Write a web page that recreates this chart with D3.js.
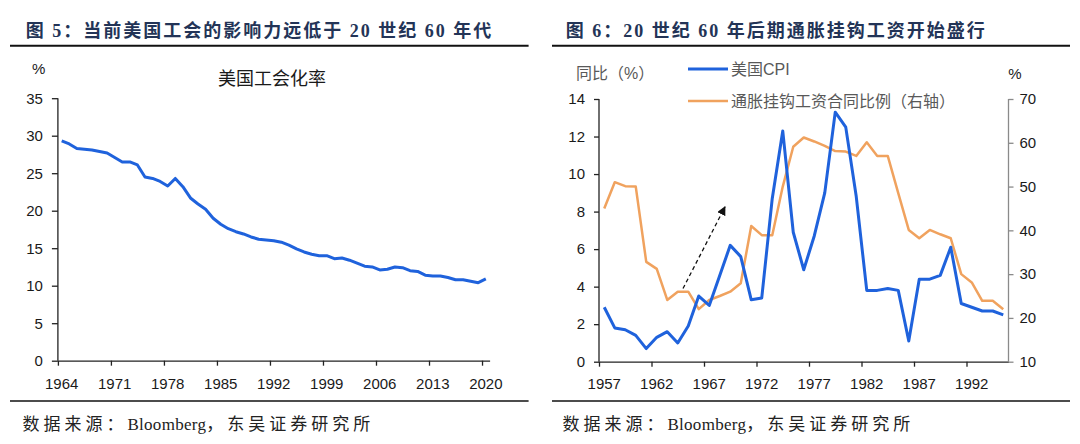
<!DOCTYPE html>
<html><head><meta charset="utf-8">
<script src="https://cdn.jsdelivr.net/npm/d3@7"></script>
<style>
html,body{margin:0;padding:0;background:#fff;}
svg{display:block;}
</style></head>
<body>
<svg id="chart" width="1080" height="444"></svg>
<script>
// ---------- DATA ----------
const unionYears = d3.range(1964, 2021);
const unionRate = [29.3,28.9,28.3,28.2,28.1,27.9,27.7,27.1,26.5,26.5,26.1,24.5,24.3,23.9,23.3,24.3,23.2,21.7,20.9,20.2,19.0,18.2,17.6,17.2,16.9,16.5,16.2,16.1,16.0,15.8,15.4,14.9,14.5,14.2,14.0,14.0,13.6,13.7,13.4,13.0,12.6,12.5,12.1,12.2,12.5,12.4,12.0,11.9,11.4,11.3,11.3,11.1,10.8,10.8,10.6,10.4,10.9];
const unionXTicks = [1964,1971,1978,1985,1992,1999,2006,2013,2020];
const unionYTicks = [0,5,10,15,20,25,30,35];

const cpiYears = d3.range(1957, 1996);
const usCPI = [2.9,1.8,1.7,1.4,0.7,1.3,1.6,1.0,1.9,3.5,3.0,4.6,6.2,5.6,3.3,3.4,8.7,12.3,6.9,4.9,6.7,9.0,13.3,12.5,8.8,3.8,3.8,3.9,3.8,1.1,4.4,4.4,4.6,6.1,3.1,2.9,2.7,2.7,2.5];
const colaShare = [45.0,51.0,50.1,50.0,32.8,31.2,24.1,26.0,26.0,22.0,24.1,25.0,26.0,27.9,41.0,38.9,38.9,50.0,59.1,61.2,60.3,59.3,58.1,58.0,57.0,60.1,57.0,57.0,48.5,40.1,38.2,40.1,39.1,38.2,30.0,28.1,23.9,23.9,22.0];
const cpiXTicks = [1957,1962,1967,1972,1977,1982,1987,1992];
const cpiYTicks = [0,2,4,6,8,10,12,14];
const colaYTicks = [10,20,30,40,50,60,70];

const titles = ["图 5：当前美国工会的影响力远低于 20 世纪 60 年代", "图 6：20 世纪 60 年后期通胀挂钩工资开始盛行"];
const sourceParts = ["数据来源：", "Bloomberg", "，东吴证券研究所"];
const legendNames = ["美国CPI", "通胀挂钩工资合同比例（右轴）"];

// ---------- STYLE ----------
const BLUE = "#1f62dc", ORANGE = "#f0a25e";
const AX = "Liberation Sans, Arial, sans-serif";
const SERIF = "'Liberation Serif','Noto Sans CJK SC',serif";
const CJK = "'Liberation Sans','Noto Sans CJK SC',sans-serif";

const svg = d3.select("#chart");
svg.append("rect").attr("width",1080).attr("height",444).attr("fill","#fff");

// headers / footers
[[10,528.6,25.8],[552,1070,565.8]].forEach((p,i)=>{
  svg.append("text").attr("x",p[2]).attr("y",31).attr("dominant-baseline","central")
    .attr("font-family",SERIF).attr("font-weight","bold").attr("font-size",18)
    .attr("letter-spacing",2).attr("fill","#233457").text(titles[i]);
  svg.append("line").attr("x1",p[0]).attr("x2",p[1]).attr("y1",45.8).attr("y2",45.8)
    .attr("stroke","#111").attr("stroke-width",2);
  svg.append("line").attr("x1",p[0]).attr("x2",p[1]).attr("y1",401).attr("y2",401)
    .attr("stroke","#111").attr("stroke-width",1.4);
  const t = svg.append("text").attr("x",p[2]-3.4).attr("y",424).attr("dominant-baseline","central")
    .attr("font-family",SERIF).attr("font-size",17).attr("fill","#222");
  sourceParts.forEach((s,k)=>{
    t.append("tspan").attr("letter-spacing",k===1?0.3:4).text(s);
  });
});

function styleAxis(g, color){
  g.selectAll("path.domain").attr("stroke",color).attr("stroke-width",1.3);
  g.selectAll(".tick line").attr("stroke",color).attr("stroke-width",1.3);
  g.selectAll("text").attr("font-family",AX).attr("font-size",15).attr("fill","#1a1a1a");
}

// ---------- LEFT CHART ----------
{
  const x0 = 57.9, x1 = 489.6, yTop = 98.2, yBot = 360.7;
  const xb = d3.scaleBand().domain(unionYears).range([x0,x1]).padding(0);
  const xl = d3.scaleLinear().domain([1964, 2021]).range([x0,x1]);
  const y = d3.scaleLinear().domain([0,35]).range([yBot,yTop]);

  const gx = svg.append("g").attr("transform",`translate(0,${yBot})`)
    .call(d3.axisBottom(xl).tickValues(unionXTicks).tickFormat("").tickSizeInner(5).tickSizeOuter(0));
  styleAxis(gx,"#222");
  const gxl = svg.append("g").attr("transform",`translate(0,${yBot})`)
    .call(d3.axisBottom(xb).tickValues(unionXTicks).tickSize(0));
  gxl.select("path.domain").remove();
  styleAxis(gxl,"#222");
  gxl.selectAll("text").attr("dy","0.32em").attr("y",24);

  const gy = svg.append("g").attr("transform",`translate(${x0},0)`)
    .call(d3.axisLeft(y).tickValues(unionYTicks).tickSizeInner(6).tickSizeOuter(0).tickPadding(9));
  styleAxis(gy,"#222");
  gy.select("path.domain").attr("d",`M0,${yBot}V${yTop}`);

  svg.append("text").attr("x",38.6).attr("y",68).attr("text-anchor","middle").attr("dominant-baseline","central")
    .attr("font-family",AX).attr("font-size",15).attr("fill","#1a1a1a").text("%");
  svg.append("text").attr("x",272).attr("y",79).attr("text-anchor","middle").attr("dominant-baseline","central")
    .attr("font-family",CJK).attr("font-size",18).attr("fill","#1a1a1a").text("美国工会化率");

  const line = d3.line().x((d,i)=>xb(unionYears[i])+xb.bandwidth()/2).y(d=>y(d));
  svg.append("path").datum(unionRate).attr("d",line).attr("fill","none")
    .attr("stroke",BLUE).attr("stroke-width",3).attr("stroke-linejoin","round");
}

// ---------- RIGHT CHART ----------
{
  const x0 = 599, x1 = 1008.5, yTop = 99, yBot = 361.7;
  const xb = d3.scaleBand().domain(cpiYears).range([x0,x1]).padding(0);
  const xl = d3.scaleLinear().domain([1957, 1996]).range([x0,x1]);
  const yL = d3.scaleLinear().domain([0,14]).range([yBot,yTop]);
  const yR = d3.scaleLinear().domain([10,70]).range([yBot,yTop]);

  const gx = svg.append("g").attr("transform",`translate(0,${yBot})`)
    .call(d3.axisBottom(xl).tickValues(cpiXTicks).tickFormat("").tickSizeInner(5).tickSizeOuter(0));
  styleAxis(gx,"#222");
  const gxl = svg.append("g").attr("transform",`translate(0,${yBot})`)
    .call(d3.axisBottom(xb).tickValues(cpiXTicks).tickSize(0));
  gxl.select("path.domain").remove();
  styleAxis(gxl,"#222");
  gxl.selectAll("text").attr("dy","0.32em").attr("y",23);

  const gy = svg.append("g").attr("transform",`translate(${x0},0)`)
    .call(d3.axisLeft(yL).tickValues(cpiYTicks).tickSizeInner(5).tickSizeOuter(0).tickPadding(9));
  styleAxis(gy,"#222");
  gy.select("path.domain").attr("d",`M0,${yBot}V${yTop}`);

  const gyr = svg.append("g").attr("transform",`translate(${x1},0)`)
    .call(d3.axisRight(yR).tickValues(colaYTicks).tickSizeInner(5).tickSizeOuter(0).tickPadding(6));
  styleAxis(gyr,"#8a8a8a");
  gyr.selectAll("text").attr("fill","#1a1a1a");
  gyr.select("path.domain").attr("d",`M0,${yBot}V${yTop}`);

  svg.append("text").attr("x",576).attr("y",73).attr("dominant-baseline","central")
    .attr("font-family",CJK).attr("font-size",16).attr("fill","#595959").text("同比（%）");
  svg.append("text").attr("x",1015).attr("y",73).attr("text-anchor","middle").attr("dominant-baseline","central")
    .attr("font-family",AX).attr("font-size",15).attr("fill","#1a1a1a").text("%");

  // legend
  [[BLUE,69],[ORANGE,101]].forEach((p,i)=>{
    svg.append("line").attr("x1",688).attr("x2",728).attr("y1",p[1]).attr("y2",p[1])
      .attr("stroke",p[0]).attr("stroke-width",i?2.5:3);
    svg.append("text").attr("x",731).attr("y",p[1]).attr("dominant-baseline","central")
      .attr("font-family",CJK).attr("font-size",16).attr("fill","#595959").text(legendNames[i]);
  });

  const cx = (i)=>xb(cpiYears[i])+xb.bandwidth()/2;
  svg.append("path").datum(colaShare).attr("d",d3.line().x((d,i)=>cx(i)).y(d=>yR(d)))
    .attr("fill","none").attr("stroke",ORANGE).attr("stroke-width",2.5).attr("stroke-linejoin","round");
  svg.append("path").datum(usCPI).attr("d",d3.line().x((d,i)=>cx(i)).y(d=>yL(d)))
    .attr("fill","none").attr("stroke",BLUE).attr("stroke-width",3).attr("stroke-linejoin","round");

  // dashed arrow annotation
  const defs = svg.append("defs");
  defs.append("marker").attr("id","ah").attr("viewBox","0 0 10 10").attr("refX",9).attr("refY",5)
    .attr("markerWidth",9).attr("markerHeight",9).attr("orient","auto").attr("markerUnits","userSpaceOnUse")
    .append("path").attr("d","M0,0L10,5L0,10Z").attr("fill","#111");
  const xs = d3.scaleLinear().domain([1957,1958]).range([cx(0),cx(1)]);
  svg.append("line").attr("x1",xs(1964.5)).attr("y1",yL(3.9)).attr("x2",xs(1968.5)).attr("y2",yL(8.25))
    .attr("stroke","#111").attr("stroke-width",1.3).attr("stroke-dasharray","4,3")
    .attr("marker-end","url(#ah)");
}
</script>
</body></html>
